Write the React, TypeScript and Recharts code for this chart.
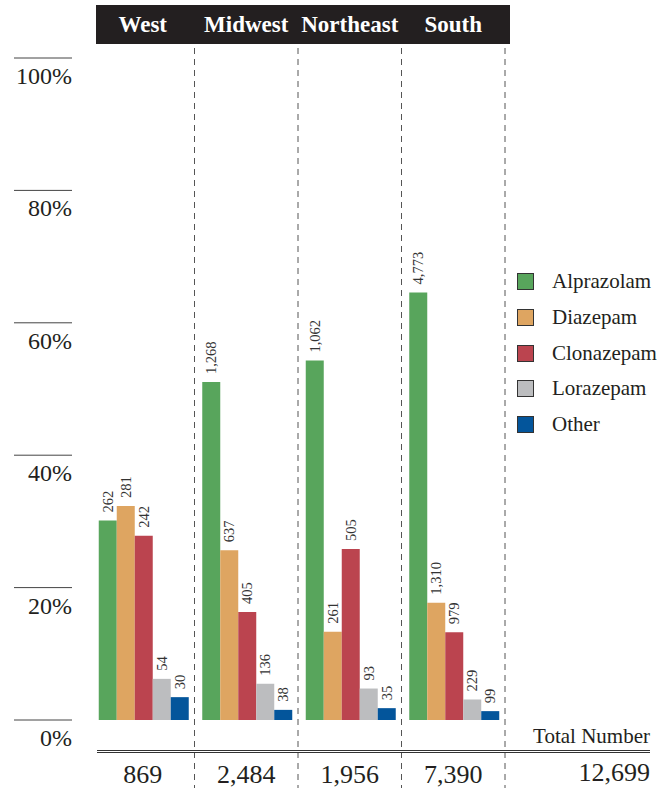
import React from 'react';
import { BarChart, Bar, XAxis, YAxis, Legend, LabelList } from 'recharts';

// counts by region (bar heights are each drug's share of the region total)
const regions = ['West', 'Midwest', 'Northeast', 'South'];
const alprazolam = [262, 1268, 1062, 4773];
const diazepam = [281, 637, 261, 1310];
const clonazepam = [242, 405, 505, 979];
const lorazepam = [54, 136, 93, 229];
const other = [30, 38, 35, 99];
const regionTotals = [869, 2484, 1956, 7390];
const grandTotal = 12699;
const yTicks = [0, 20, 40, 60, 80, 100];

const drugs = [
  { key: 'alprazolam', name: 'Alprazolam', color: '#58a55c', counts: alprazolam },
  { key: 'diazepam', name: 'Diazepam', color: '#dea561', counts: diazepam },
  { key: 'clonazepam', name: 'Clonazepam', color: '#bb444f', counts: clonazepam },
  { key: 'lorazepam', name: 'Lorazepam', color: '#bcbdbf', counts: lorazepam },
  { key: 'other', name: 'Other', color: '#03559b', counts: other },
];

const data = regions.map((region, i) => {
  const row: any = { region, total: regionTotals[i] };
  drugs.forEach((d) => {
    row[d.key] = d.counts[i];
    row[d.key + 'Pct'] = (d.counts[i] / regionTotals[i]) * 100;
  });
  return row;
});

const FONT = '"Liberation Serif", "Times New Roman", serif';
const INK = '#231f20';
const fmt = (v: number) => v.toLocaleString('en-US');

const YTick = ({ x, y, payload }: any) => (
  <g>
    <line x1={x - 77} x2={x - 19} y1={y} y2={y} stroke="#444" strokeWidth={1} />
    <text x={x - 19} y={y + 26} textAnchor="end" fontSize={24} fill={INK} fontFamily={FONT}>
      {payload.value}%
    </text>
  </g>
);

// bottom tick: region total, plus the dashed separator at the right edge of the band
const TotalTick = ({ x, y, index, width }: any) => {
  const half = width / regions.length / 2;
  const sx = x + half;
  return (
    <g>
      <line x1={sx} x2={sx} y1={y - 672} y2={y + 68} stroke="#555" strokeWidth={1} strokeDasharray="6 5" />
      <text x={x} y={y + 63} textAnchor="middle" fontSize={26} fill={INK} fontFamily={FONT}>
        {fmt(regionTotals[index])}
      </text>
    </g>
  );
};

const BarValue = ({ x, y, width, value }: any) => {
  const cx = x + width / 2;
  const ty = y - 8;
  return (
    <text
      x={cx}
      y={ty}
      transform={`rotate(-90 ${cx} ${ty})`}
      textAnchor="start"
      dominantBaseline="central"
      fontSize={14.5}
      fill="#333"
      fontFamily={FONT}
    >
      {fmt(value)}
    </text>
  );
};

const LegendBox = () => (
  <div style={{ fontFamily: FONT }}>
    {drugs.map((d) => (
      <div key={d.key} style={{ display: 'flex', alignItems: 'center', height: 35.7 }}>
        <span
          style={{
            width: 15,
            height: 15,
            background: d.color,
            border: '1px solid #333',
            display: 'inline-block',
            marginRight: 18,
          }}
        />
        <span style={{ fontSize: 21, color: INK }}>{d.name}</span>
      </div>
    ))}
  </div>
);

export default function App() {
  return (
    <div style={{ position: 'absolute', left: 0, top: 0, width: 669, height: 788, background: '#fff', fontFamily: FONT }}>
      <BarChart
        width={669}
        height={788}
        data={data}
        margin={{ top: 58, right: 164, bottom: 0, left: 0 }}
        barCategoryGap={7.75}
        barGap={0}
      >
        <XAxis
          dataKey="region"
          height={68}
          axisLine={false}
          tickLine={false}
          tickSize={0}
          tickMargin={0}
          interval={0}
          tick={<TotalTick />}
        />
        <YAxis
          width={91}
          domain={[0, 100]}
          ticks={yTicks}
          axisLine={false}
          tickLine={false}
          tickSize={0}
          tickMargin={0}
          tick={<YTick />}
          interval={0}
        />
        {drugs.map((d) => (
          <Bar key={d.key} dataKey={d.key + 'Pct'} name={d.name} fill={d.color} isAnimationActive={false}>
            <LabelList dataKey={d.key} content={<BarValue />} />
          </Bar>
        ))}
        <Legend
          layout="vertical"
          align="center"
          verticalAlign="middle"
          content={<LegendBox />}
          wrapperStyle={{ position: 'absolute', left: 517, top: 264, width: 150, height: 180 }}
        />
      </BarChart>

      {/* region header */}
      <div style={{ position: 'absolute', left: 96, top: 5, width: 414, height: 39, background: INK }} />
      <div style={{ position: 'absolute', left: 91, top: 5, height: 39, display: 'flex' }}>
        {regions.map((r) => (
          <div
            key={r}
            style={{ width: 103.5, textAlign: 'center', lineHeight: '39px', color: '#fff', fontWeight: 'bold', fontSize: 23 }}
          >
            {r}
          </div>
        ))}
      </div>

      {/* totals row */}
      <div style={{ position: 'absolute', right: 669 - 650, top: 724, fontSize: 21, color: INK, lineHeight: '24px' }}>
        Total Number
      </div>
      <div
        style={{
          position: 'absolute',
          left: 97,
          top: 750,
          width: 553,
          height: 1,
          borderTop: '1px solid #333',
          borderBottom: '1px solid #333',
        }}
      />
      <div style={{ position: 'absolute', right: 669 - 650, top: 758, fontSize: 26, color: INK, lineHeight: '30px' }}>
        {fmt(grandTotal)}
      </div>
    </div>
  );
}
